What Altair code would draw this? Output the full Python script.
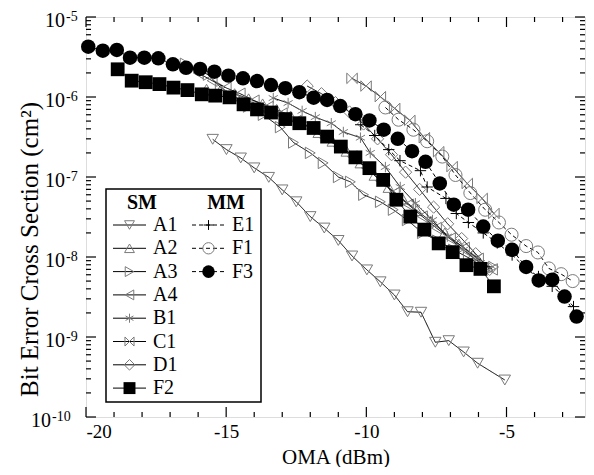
import altair as alt
import pandas as pd

# ---------------- data ----------------
A1_x = [-15.48, -14.99, -14.48, -14.0, -13.48, -13.0, -12.5, -12.0, -11.5, -11.0, -10.51, -9.98, -9.5, -9.0, -8.53, -8.05, -7.54, -7.06, -6.53, -6.03, -5.06]
A1_y = [2.96e-7, 2.2e-7, 1.73e-7, 1.3e-7, 9.9e-8, 6.9e-8, 4.9e-8, 3.2e-8, 2.3e-8, 1.61e-8, 1.03e-8, 6.9e-9, 4.9e-9, 3.35e-9, 2.07e-9, 2.04e-9, 8.6e-10, 9.0e-10, 6.5e-10, 4.7e-10, 2.9e-10]

A2_x = [-15.7, -15.2, -14.7, -14.2, -13.7, -13.2, -12.7, -12.2, -11.7, -11.2, -10.7, -10.2, -9.7, -9.2, -8.7, -8.2, -7.7, -7.2, -6.7, -6.2, -5.7]
A2_y = [1.25e-6, 1.22e-6, 1.1e-6, 9.5e-7, 8.2e-7, 7.0e-7, 5.8e-7, 4.6e-7, 3.6e-7, 2.8e-7, 2.1e-7, 1.5e-7, 1.05e-7, 7.4e-8, 5.3e-8, 3.8e-8, 2.8e-8, 2.0e-8, 1.45e-8, 1.05e-8, 7.5e-9]

A3_x = [-16.46, -15.64, -15.21, -14.67, -14.21, -13.68, -13.07, -12.6, -12.0, -11.54, -11.0, -10.57, -10.1, -9.5, -9.04, -8.54, -8.0, -7.46, -6.89, -6.36, -5.86, -5.46]
A3_y = [2.6e-6, 1.9e-6, 1.33e-6, 1.0e-6, 7.6e-7, 6.0e-7, 4.2e-7, 2.7e-7, 2.0e-7, 1.5e-7, 1.0e-7, 8.7e-8, 6.0e-8, 4.9e-8, 3.9e-8, 2.9e-8, 2.0e-8, 1.6e-8, 1.23e-8, 9.8e-9, 7.7e-9, 7.5e-9]

A4_x = [-16.0, -15.5, -15.0, -14.5, -14.0, -13.5, -13.0, -12.5, -12.0, -11.5, -11.0, -10.5, -10.0, -9.5, -9.0, -8.5, -8.0, -7.5, -7.0, -6.5, -6.0, -5.5]
A4_y = [2.0e-6, 1.6e-6, 1.3e-6, 1.1e-6, 9.0e-7, 7.5e-7, 6.2e-7, 5.0e-7, 4.0e-7, 3.1e-7, 2.4e-7, 1.8e-7, 1.3e-7, 9.0e-8, 6.3e-8, 4.5e-8, 3.2e-8, 2.3e-8, 1.7e-8, 1.3e-8, 9.5e-9, 7.0e-9]

B1_x = [-13.32, -12.79, -12.29, -11.82, -11.25, -10.82, -10.21, -9.86, -9.32, -8.79, -8.25, -7.64, -7.11, -6.54, -5.93]
B1_y = [9.7e-7, 8.4e-7, 6.7e-7, 5.6e-7, 4.7e-7, 3.65e-7, 3.1e-7, 2.0e-7, 1.33e-7, 7.5e-8, 4.7e-8, 2.9e-8, 1.8e-8, 1.23e-8, 8.4e-9]

C1_x = [-10.51, -10.01, -9.5, -8.99, -8.45, -7.93, -7.42, -6.94, -6.4, -5.87, -5.45]
C1_y = [1.71e-6, 1.37e-6, 1.01e-6, 7.2e-7, 5.1e-7, 3.1e-7, 2.07e-7, 1.35e-7, 8.3e-8, 5.4e-8, 3.5e-8]

D1_x = [-12.11, -11.6, -11.1, -10.6, -10.1, -9.6, -9.1, -8.6, -8.1, -7.6, -7.1, -6.6, -6.1, -5.6]
D1_y = [1.37e-6, 1.1e-6, 8.5e-7, 6.5e-7, 4.6e-7, 3.0e-7, 1.9e-7, 1.15e-7, 7.0e-8, 4.2e-8, 2.6e-8, 1.7e-8, 1.1e-8, 7.0e-9]

F2_x = [-18.87, -18.37, -17.87, -17.38, -16.88, -16.38, -15.87, -15.39, -14.88, -14.38, -13.9, -13.4, -12.89, -12.39, -11.88, -11.4, -10.91, -10.39, -9.89, -9.4, -8.93, -8.43, -7.93, -7.42, -6.92, -6.43, -5.93, -5.45]
F2_y = [2.22e-6, 1.6e-6, 1.53e-6, 1.45e-6, 1.31e-6, 1.22e-6, 1.08e-6, 1.04e-6, 9.9e-7, 8.1e-7, 7.0e-7, 6.4e-7, 5.3e-7, 4.7e-7, 4.1e-7, 3.2e-7, 2.4e-7, 1.76e-7, 1.29e-7, 9.2e-8, 5.2e-8, 3.2e-8, 2.2e-8, 1.48e-8, 1.15e-8, 7.9e-9, 7.1e-9, 4.3e-9]

E1_x = [-10.2, -9.7, -9.2, -8.8, -8.07, -7.83, -7.16, -6.79, -6.36, -5.83, -5.33, -4.8, -4.32, -3.86, -3.37, -2.93, -2.61]
E1_y = [4.5e-7, 3.3e-7, 2.2e-7, 1.6e-7, 1.2e-7, 7.5e-8, 5.4e-8, 3.5e-8, 2.7e-8, 2.0e-8, 1.5e-8, 1.06e-8, 7.3e-9, 5.7e-9, 4.3e-9, 3.2e-9, 2.4e-9]

F1_x = [-9.32, -8.85, -8.32, -7.83, -7.29, -6.82, -6.29, -5.76, -5.27, -4.82, -4.3, -3.88, -3.49, -3.05, -2.64]
F1_y = [7.4e-7, 5.2e-7, 3.9e-7, 2.8e-7, 1.8e-7, 1.06e-7, 6.3e-8, 3.9e-8, 2.7e-8, 1.9e-8, 1.37e-8, 1.14e-8, 7.2e-9, 6.1e-9, 5.0e-9]

F3_x = [-19.92, -19.4, -18.9, -18.43, -17.92, -17.42, -16.9, -16.43, -15.93, -15.42, -14.92, -14.4, -13.9, -13.4, -12.89, -12.39, -11.88, -11.4, -10.93, -10.39, -9.89, -9.38, -8.88, -8.37, -7.89, -7.38, -6.88, -6.37, -5.83, -5.31, -4.8, -4.3, -3.85, -3.37, -2.93, -2.5]
F3_y = [4.26e-6, 3.79e-6, 3.87e-6, 3.1e-6, 3.1e-6, 3.05e-6, 2.56e-6, 2.32e-6, 2.24e-6, 2.07e-6, 1.85e-6, 1.71e-6, 1.58e-6, 1.41e-6, 1.29e-6, 1.15e-6, 9.8e-7, 9.2e-7, 7.7e-7, 6.1e-7, 5.1e-7, 3.9e-7, 3.0e-7, 2.1e-7, 1.55e-7, 8.3e-8, 4.5e-8, 3.9e-8, 2.4e-8, 1.6e-8, 1.23e-8, 7.5e-9, 5.1e-9, 5.2e-9, 3.2e-9, 1.8e-9]

sm_names = ["A1", "A2", "A3", "A4", "B1", "C1", "D1", "F2"]
mm_names = ["E1", "F1", "F3"]
x_major = [-20, -15, -10, -5]
y_exponents = [-5, -6, -7, -8, -9, -10]

# ---------------- styles ----------------
FONT = "Liberation Serif"
GRAY = "#7a7a7a"
W, H = 499, 400
PLUS = "M-1,0L1,0M0,-1L0,1"
STAR = "M0,-1L0,1M-0.87,-0.5L0.87,0.5M-0.87,0.5L0.87,-0.5"
BOWTIE = "M-1,-1L1,1L1,-1L-1,1Z"
style = {
    "A1": dict(shape="triangle-down", size=130, filled=False, color=GRAY),
    "A2": dict(shape="triangle-up", size=130, filled=False, color=GRAY),
    "A3": dict(shape="triangle-right", size=130, filled=False, color=GRAY),
    "A4": dict(shape="triangle-left", size=130, filled=False, color=GRAY),
    "B1": dict(shape=STAR, size=110, filled=False, color=GRAY),
    "C1": dict(shape=BOWTIE, size=110, filled=False, color=GRAY),
    "D1": dict(shape="diamond", size=150, filled=False, color=GRAY),
    "F2": dict(shape="square", size=190, filled=True, color="black"),
    "E1": dict(shape=PLUS, size=130, filled=False, color="black"),
    "F1": dict(shape="circle", size=170, filled=False, color=GRAY),
    "F3": dict(shape="circle", size=210, filled=True, color="black"),
}
series = {
    "A1": (A1_x, A1_y), "A2": (A2_x, A2_y), "A3": (A3_x, A3_y), "A4": (A4_x, A4_y),
    "B1": (B1_x, B1_y), "C1": (C1_x, C1_y), "D1": (D1_x, D1_y), "F2": (F2_x, F2_y),
    "E1": (E1_x, E1_y), "F1": (F1_x, F1_y), "F3": (F3_x, F3_y),
}

xs = alt.Scale(domain=[-20, -2.2], nice=False, zero=False)
ys = alt.Scale(type="log", domain=[1e-10, 1e-5], nice=False)
xaxis = alt.Axis(values=x_major, ticks=False, domain=False, grid=False,
                 labelExpr="'' + datum.value", labelFont=FONT, labelFontSize=19,
                 labelColor="black", labelPadding=5, title="OMA (dBm)",
                 titleFont=FONT, titleFontSize=21, titleFontWeight="normal",
                 titleColor="black", titleY=46, titleBaseline="alphabetic")
yaxis = alt.Axis(labels=False, ticks=False, domain=False, grid=False,
                 title="Bit Error Cross Section (cm²)", titleFont=FONT,
                 titleFontSize=25, titleFontWeight="normal", titleColor="black",
                 titleX=-44, titleY=232, titleBaseline="bottom", titleAngle=270)
X = alt.X("x:Q", scale=xs, axis=xaxis)
Y = alt.Y("y:Q", scale=ys, axis=yaxis)

layers = []

# ticks (inward)
x_minor = [v for v in range(-19, -2) if v not in x_major]
y_major = [10.0 ** e for e in y_exponents]
y_minor = [k * 10.0 ** e for e in range(-10, -5) for k in range(2, 10)]
dxm = pd.DataFrame({"x": x_major})
dxn = pd.DataFrame({"x": x_minor})
dym = pd.DataFrame({"y": y_major})
dyn = pd.DataFrame({"y": y_minor})
tick = dict(color="black", strokeWidth=1.2)
for d, L in ((dxm, 10), (dxn, 5)):
    layers.append(alt.Chart(d).mark_rule(**tick).encode(x=X, y=alt.value(H), y2=alt.value(H - L)))
    layers.append(alt.Chart(d).mark_rule(**tick).encode(x=X, y=alt.value(0), y2=alt.value(L)))
for d, L in ((dym, 10), (dyn, 5)):
    layers.append(alt.Chart(d).mark_rule(**tick).encode(y=Y, x=alt.value(0), x2=alt.value(L)))
    layers.append(alt.Chart(d).mark_rule(**tick).encode(y=Y, x=alt.value(W), x2=alt.value(W - L)))

# y tick labels 10^e
lab = pd.DataFrame({"y": y_major, "e": [str(e) for e in y_exponents]})
lab["xb"] = [-21 - (len(s) - 2) * 14 for s in lab["e"]]
lab["xe"] = lab["xb"] + 1
lab["b"] = "10"
lab["off"] = [-1 if e == -5 else -6 for e in y_exponents]
layers.append(alt.Chart(lab).mark_text(font=FONT, fontSize=20, align="right", baseline="middle", dy=4, color="black")
              .encode(y=Y, x=alt.X("xb:Q", scale=None), text="b:N"))
layers.append(alt.Chart(lab).mark_text(font=FONT, fontSize=14, align="left", baseline="middle", color="black")
              .encode(y=Y, yOffset=alt.YOffset("off:Q", scale=None), x=alt.X("xe:Q", scale=None), text="e:N"))

# series
for name in sm_names + mm_names:
    xv, yv = series[name]
    d = pd.DataFrame({"x": xv, "y": yv})
    dash = [4, 3] if name in mm_names else [1, 0]
    layers.append(alt.Chart(d).mark_line(color="black", strokeWidth=1, strokeDash=dash).encode(x=X, y=Y))
    st = style[name]
    layers.append(alt.Chart(d).mark_point(shape=st["shape"], size=st["size"], filled=st["filled"],
                                          color=st["color"], strokeWidth=1, opacity=1)
                  .encode(x=X, y=Y))

# legend (box, headings, entries)
box = pd.DataFrame({"x1": [20], "x2": [175], "y1": [172], "y2": [385]})
layers.append(alt.Chart(box).mark_rect(fill="white", stroke="black", strokeWidth=1.5)
              .encode(x=alt.X("x1:Q", scale=None), x2="x2:Q", y=alt.Y("y1:Q", scale=None), y2="y2:Q"))
heads = pd.DataFrame({"lx": [56, 140], "ly": [186, 186], "t": ["SM", "MM"]})
layers.append(alt.Chart(heads).mark_text(font=FONT, fontSize=20, fontWeight="bold", baseline="middle", color="black")
              .encode(x=alt.X("lx:Q", scale=None), y=alt.Y("ly:Q", scale=None), text="t:N"))
for col, names, x0 in ((0, sm_names, 27), (1, mm_names, 106)):
    for i, name in enumerate(names):
        ly = 208 + i * 23.3
        seg = pd.DataFrame({"a": [x0], "b": [x0 + 33], "ly": [ly]})
        dash = [4, 3] if col == 1 else [1, 0]
        layers.append(alt.Chart(seg).mark_rule(color="black", strokeWidth=1, strokeDash=dash)
                      .encode(x=alt.X("a:Q", scale=None), x2="b:Q", y=alt.Y("ly:Q", scale=None)))
        st = style[name]
        pt = pd.DataFrame({"lx": [x0 + 16.5], "ly": [ly], "t": [name], "tx": [x0 + 40]})
        layers.append(alt.Chart(pt).mark_point(shape=st["shape"], size=st["size"] * 0.75, filled=st["filled"],
                                               color=st["color"], strokeWidth=1, opacity=1)
                      .encode(x=alt.X("lx:Q", scale=None), y=alt.Y("ly:Q", scale=None)))
        layers.append(alt.Chart(pt).mark_text(font=FONT, fontSize=20, align="left", baseline="middle", color="black")
                      .encode(x=alt.X("tx:Q", scale=None), y=alt.Y("ly:Q", scale=None), text="t:N"))

chart = alt.layer(*layers).properties(
    width=W, height=H,
    autosize=alt.AutoSizeParams(type="none"),
    padding={"left": 78, "top": 9, "right": 1, "bottom": 50},
).configure_view(stroke="black", strokeWidth=2).configure(background="white")

chart.save("out.html", embed_options={"renderer": "svg", "actions": False})
